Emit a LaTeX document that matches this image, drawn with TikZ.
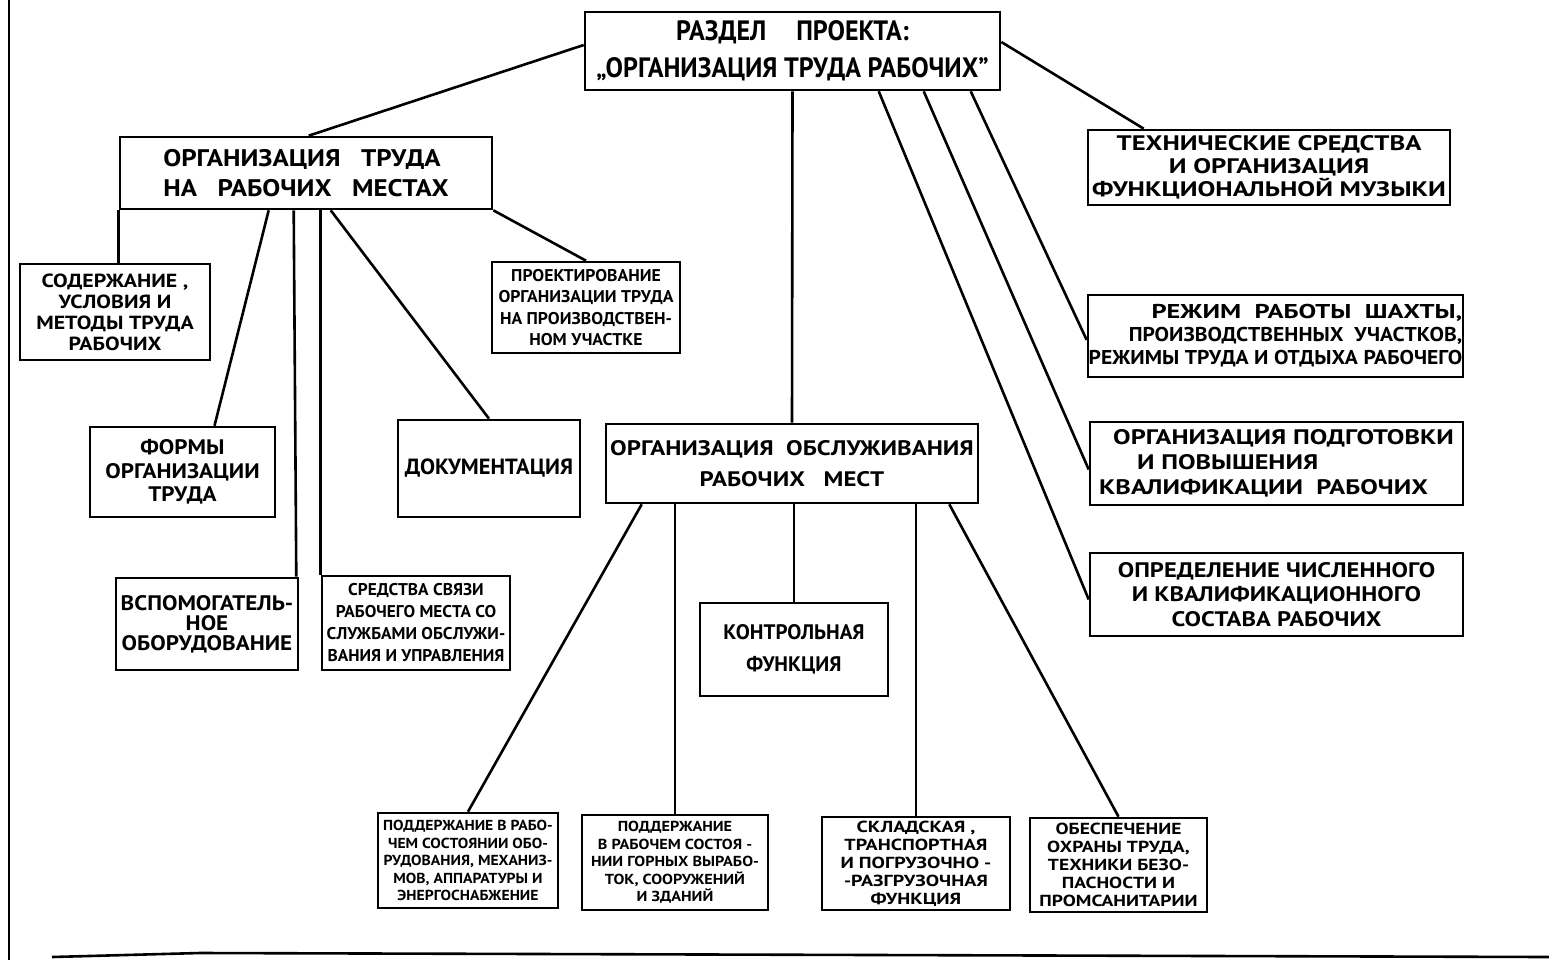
\documentclass[tikz,border=0pt]{standalone}
\usepackage{fontspec}
\setmainfont{PT Sans}
\newcommand\lettering[3]{\fontsize{#1}{#2}\selectfont\bfseries\addfontfeatures{FakeStretch=#3}}

\begin{document}
\begin{tikzpicture}[x=1pt, y=-1pt, line width=2.6pt,
    box/.style={draw, inner sep=0pt, align=center}]
    \useasboundingbox (0, 0) rectangle (1549, 960);

    \draw (9, 0) -- (9, 960);
    \draw (52, 957) -- (200, 953) -- (1549, 957);

    \node [box, minimum width=415, minimum height=78, font={\lettering{28}{37}{0.93}}] (root) at (792.5, 51) {РАЗДЕЛ\hspace{30pt}ПРОЕКТА:\\„ОРГАНИЗАЦИЯ ТРУДА РАБОЧИХ”};

    \node [box, minimum width=372, minimum height=72, align=left, font={\lettering{24}{30}{1.12}}] (trud) at (306, 173) {ОРГАНИЗАЦИЯ~~~ТРУДА\\НА~~~РАБОЧИХ~~~МЕСТАХ};
    \node [box, minimum width=362, minimum height=75, font={\lettering{21}{23}{1.27}}] (tech) at (1269, 167.5) {ТЕХНИЧЕСКИЕ СРЕДСТВА\\И ОРГАНИЗАЦИЯ\\ФУНКЦИОНАЛЬНОЙ МУЗЫКИ};
    \node [box, minimum width=372, minimum height=79, font={\lettering{21}{31}{1.18}}] (obsl) at (792, 463.5) {ОРГАНИЗАЦИЯ~~ОБСЛУЖИВАНИЯ\\РАБОЧИХ~~~МЕСТ};

    \node [box, minimum width=375, minimum height=82, align=right, font={\lettering{20}{23}{1.08}}] (rezhim) at (1275.5, 336) {{\addfontfeatures{FakeStretch=1.32}РЕЖИМ~~РАБОТЫ~~ШАХТЫ,}\\ПРОИЗВОДСТВЕННЫХ~~УЧАСТКОВ,\\РЕЖИМЫ ТРУДА И ОТДЫХА РАБОЧЕГО};
    \node [box, minimum width=373, minimum height=83, align=left, font={\lettering{21}{25}{1.25}}] (podg) at (1276.5, 463.5) {\hspace*{14pt}ОРГАНИЗАЦИЯ ПОДГОТОВКИ\\\hspace*{38pt}И ПОВЫШЕНИЯ\\КВАЛИФИКАЦИИ~~РАБОЧИХ};
    \node [box, minimum width=373, minimum height=83, font={\lettering{21}{24.5}{1.17}}] (opred) at (1276.5, 594.5) {ОПРЕДЕЛЕНИЕ ЧИСЛЕННОГО\\И КВАЛИФИКАЦИОННОГО\\СОСТАВА РАБОЧИХ};

    \node [box, minimum width=190, minimum height=96, font={\lettering{19}{21}{1.15}}] (sod) at (115, 312) {СОДЕРЖАНИЕ ,\\УСЛОВИЯ И\\МЕТОДЫ ТРУДА\\РАБОЧИХ};
    \node [box, minimum width=188, minimum height=91, font={\lettering{17}{21.5}{1.04}}] (proj) at (586, 307.5) {ПРОЕКТИРОВАНИЕ\\ОРГАНИЗАЦИИ ТРУДА\\НА ПРОИЗВОДСТВЕН-\\НОМ УЧАСТКЕ};
    \node [box, minimum width=185, minimum height=90, font={\lettering{21}{23.5}{1.1}}] (formy) at (182.5, 472) {ФОРМЫ\\ОРГАНИЗАЦИИ\\ТРУДА};
    \node [box, minimum width=182, minimum height=97, font={\lettering{22}{26}{1.02}}] (doc) at (489, 468.5) {ДОКУМЕНТАЦИЯ};
    \node [box, minimum width=182, minimum height=92, font={\lettering{21}{20}{1.1}}] (aux) at (207, 624) {ВСПОМОГАТЕЛЬ-\\НОЕ\\ОБОРУДОВАНИЕ};
    \node [box, minimum width=188, minimum height=94, font={\lettering{17}{22}{1.02}}] (sv) at (416, 623) {СРЕДСТВА СВЯЗИ\\РАБОЧЕГО МЕСТА СО\\СЛУЖБАМИ ОБСЛУЖИ-\\ВАНИЯ И УПРАВЛЕНИЯ};

    \node [box, minimum width=188, minimum height=93, font={\lettering{21}{32}{1.0}}] (kontr) at (794, 649.5) {КОНТРОЛЬНАЯ\\ФУНКЦИЯ};
    \node [box, minimum width=180, minimum height=95, font={\lettering{14.5}{17.5}{1.08}}] (pod1) at (468, 860.5) {ПОДДЕРЖАНИЕ В РАБО-\\ЧЕМ СОСТОЯНИИ ОБО-\\РУДОВАНИЯ, МЕХАНИЗ-\\МОВ, АППАРАТУРЫ И\\ЭНЕРГОСНАБЖЕНИЕ};
    \node [box, minimum width=186, minimum height=95, font={\lettering{14.5}{17.5}{1.12}}] (pod2) at (675, 862.5) {ПОДДЕРЖАНИЕ\\В РАБОЧЕМ СОСТОЯ -\\НИИ ГОРНЫХ ВЫРАБО-\\ТОК, СООРУЖЕНИЙ\\И ЗДАНИЙ};
    \node [box, minimum width=188, minimum height=93, font={\lettering{16}{18}{1.25}}] (sklad) at (916, 863.5) {СКЛАДСКАЯ ,\\ТРАНСПОРТНАЯ\\И ПОГРУЗОЧНО -\\-РАЗГРУЗОЧНАЯ\\ФУНКЦИЯ};
    \node [box, minimum width=177, minimum height=94, font={\lettering{16}{18}{1.22}}] (obesp) at (1118.5, 865) {ОБЕСПЕЧЕНИЕ\\ОХРАНЫ ТРУДА,\\ТЕХНИКИ БЕЗО-\\ПАСНОСТИ И\\ПРОМСАНИТАРИИ};

    \draw ([yshift=6pt]root.west) -- ([xshift=190pt]trud.north west);
    \draw ([yshift=9pt]root.east) -- ([xshift=57pt]tech.north west);
    \draw (root.south) -- (obsl.north);
    \draw ([xshift=295pt]root.south west) -- ([yshift=-5pt]opred.west);
    \draw ([xshift=340pt]root.south west) -- ([yshift=-6pt]podg.west);
    \draw ([xshift=387pt]root.south west) -- ([yshift=-4pt]rezhim.west);

    \draw (trud.south west) -- (trud.south west |- sod.north);
    \draw ([xshift=150pt]trud.south west) -- ([xshift=32pt]formy.north);
    \draw ([xshift=175pt]trud.south west) -- ([xshift=-3pt]aux.north east);
    \draw (sv.north west |- trud.south) -- (sv.north west);
    \draw ([xshift=212pt]trud.south west) -- (doc.north);
    \draw (trud.south east) -- (proj.north);

    \draw ([xshift=37pt]obsl.south west) -- (pod1.north);
    \draw (pod2.north |- obsl.south) -- (pod2.north);
    \draw ([xshift=2pt]obsl.south) -- (kontr.north);
    \draw (sklad.north |- obsl.south) -- (sklad.north);
    \draw ([xshift=-30pt]obsl.south east) -- (obesp.north);
\end{tikzpicture}
\end{document}
